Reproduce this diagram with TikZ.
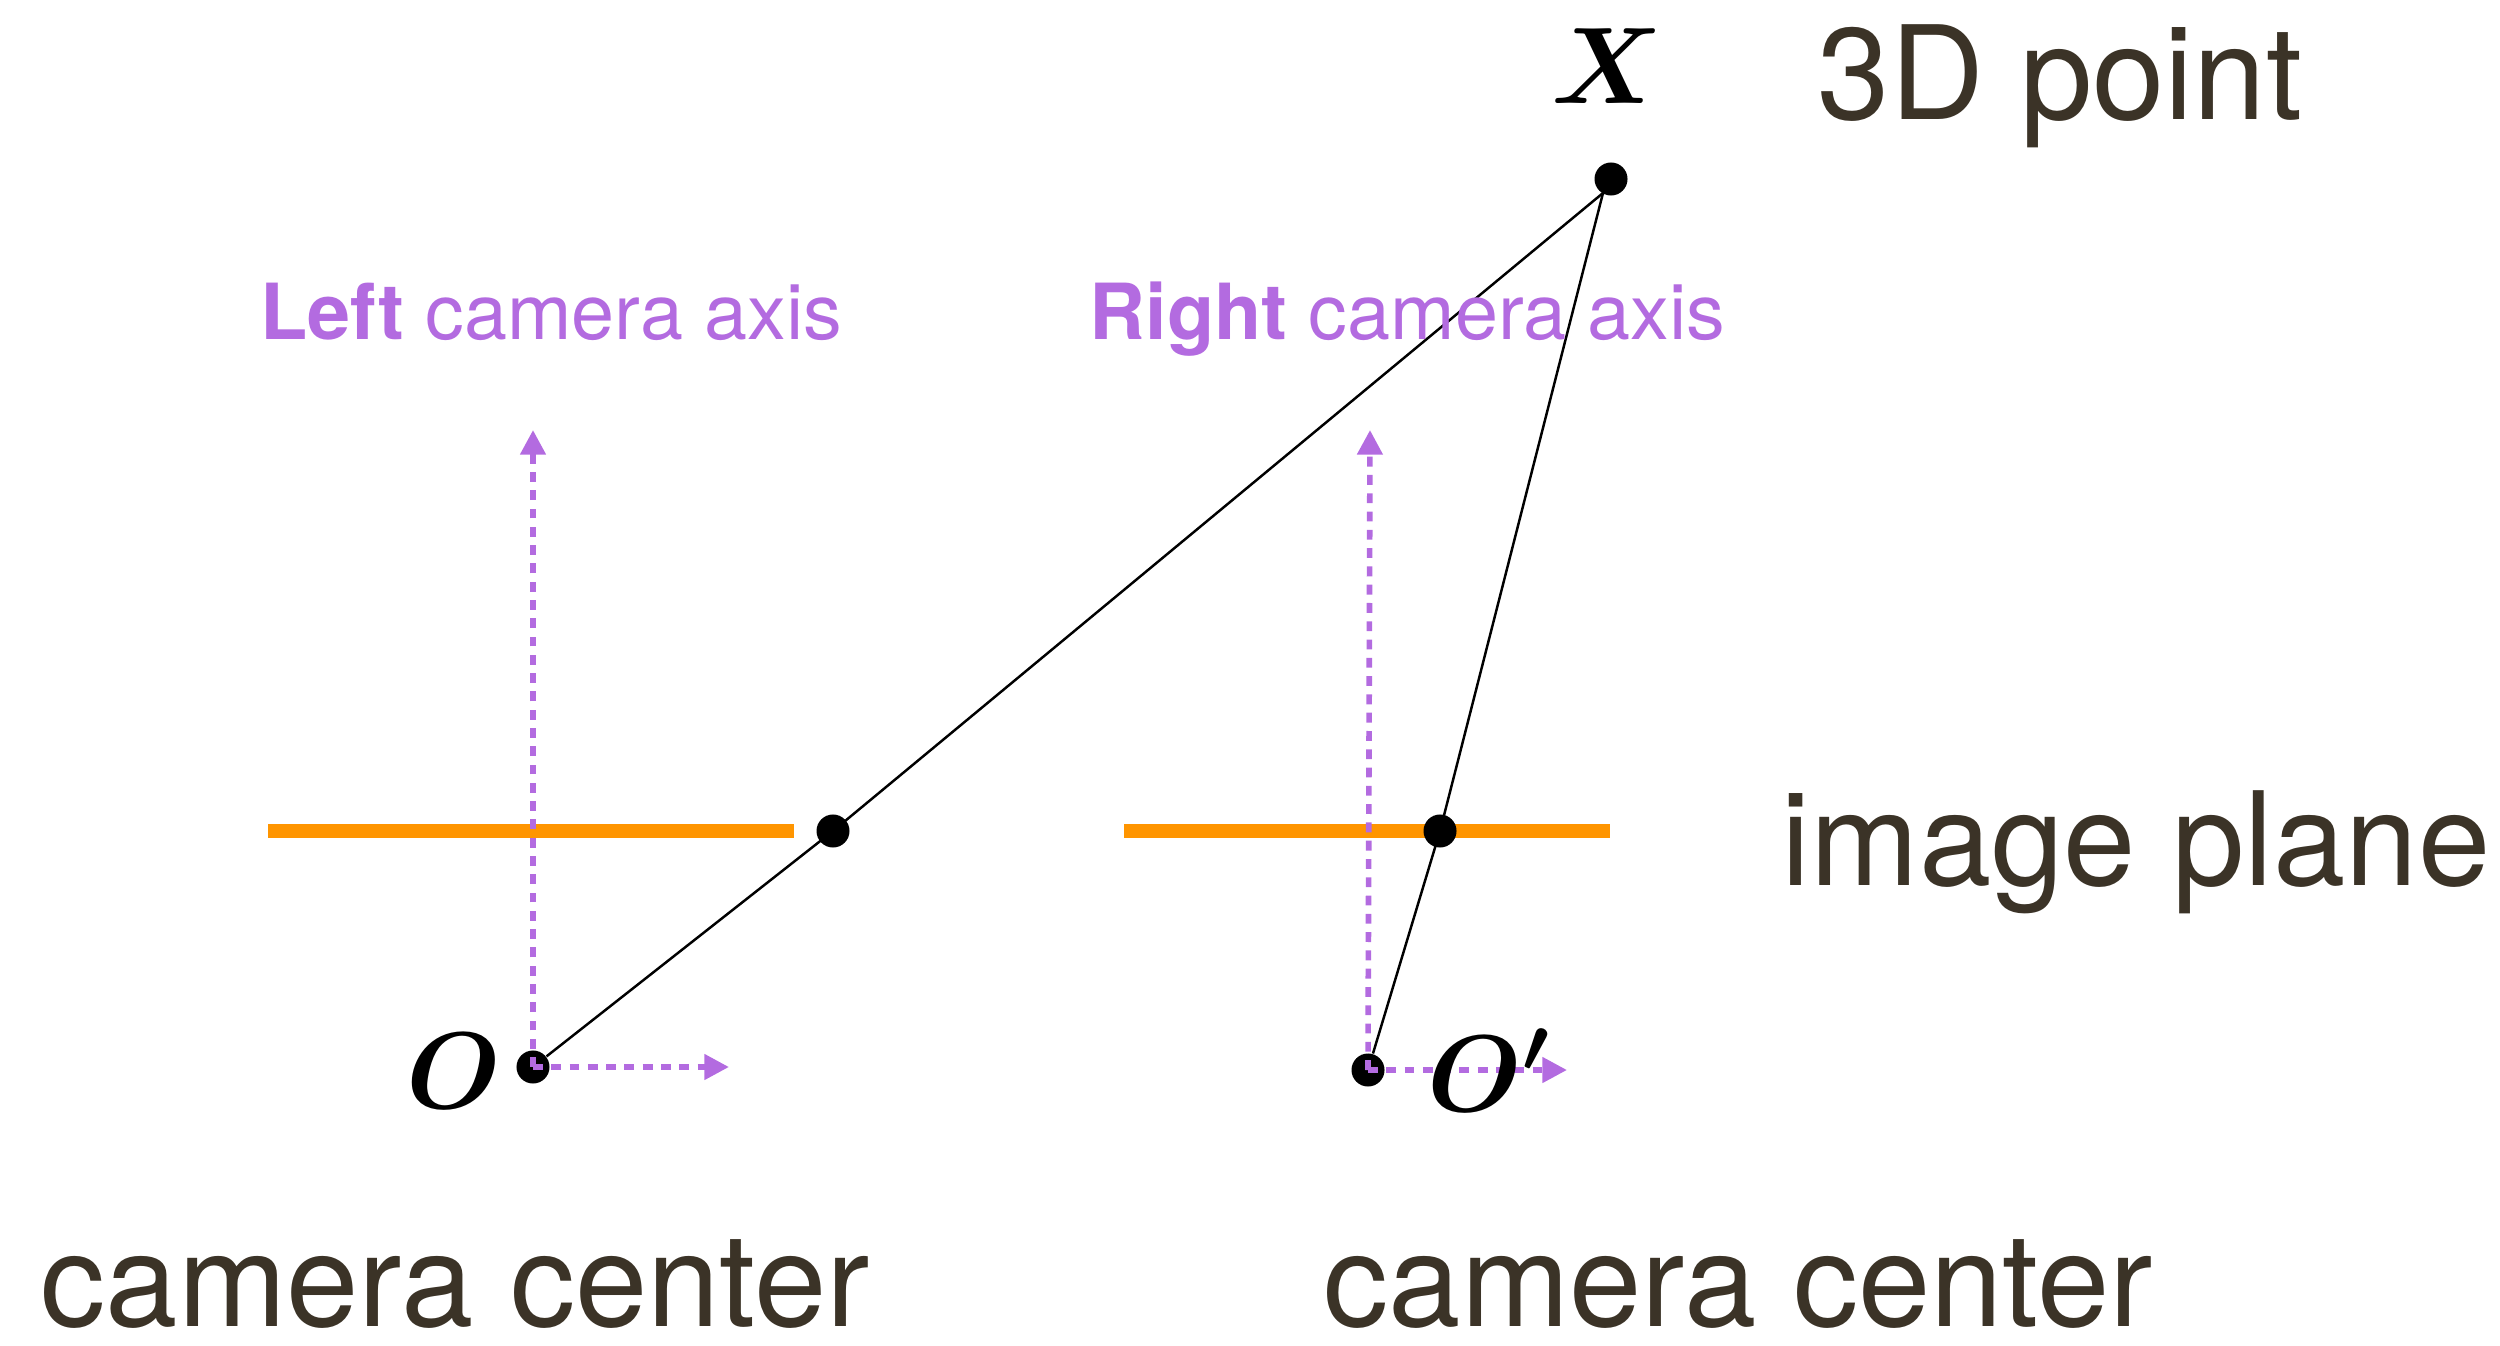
\RequirePackage{fix-cm}
\documentclass[tikz,border=0pt]{standalone}
\usepackage{fontspec}
\setmainfont{TeX Gyre Heros}
\usepackage{amsmath,amssymb,bm}
\usetikzlibrary{arrows.meta,calc}
\definecolor{axiscol}{HTML}{B36BE0}
\definecolor{planecol}{HTML}{FF9500}
\definecolor{textcol}{HTML}{3B3327}

\begin{document}
\begin{tikzpicture}[x=0.01cm, y=-0.01cm,
          every node/.style={inner sep=0pt},
          lbl/.style={font=\fontsize{37}{40}\selectfont, text=textcol, anchor=base west},
          axlbl/.style={font=\fontsize{22}{26}\selectfont, text=axiscol, anchor=base west},
          mathlbl/.style={font=\fontsize{31}{36}\selectfont},
          dot/.style={circle, fill=black, minimum size=0.33cm},
          plane/.style={planecol, line width=3.7pt},
          ray/.style={black, line width=0.7pt},
          axis/.style={axiscol, line width=1.6pt, dash pattern=on 2.8pt off 2.4pt,
                       -{Triangle[length=7pt, width=7pt]}}
      ]
        \useasboundingbox (0,0) rectangle (2500,1346);

        % image planes
        \coordinate (plLa) at (268,831);
        \coordinate (plLb) at (794,831);
        \coordinate (plRa) at (1124,831);
        \coordinate (plRb) at (1610,831);
        \draw[plane] (plLa) -- (plLb);
        \draw[plane] (plRa) -- (plRb);

        % camera centres, projections and the 3D point
        \node[dot] (O)  at (533,1067) {};
        \node[dot] (Op) at (1368,1070) {};
        \node[dot] (X)  at (1611,179) {};
        \node[dot] (pL) at (833,831) {};
        \node[dot] (pR) at (1440,831) {};
        \coordinate (Xtip) at (1603,193);

        \draw[ray] (O)  -- (pL.center) -- (Xtip);
        \draw[ray] (Op) -- (pR.center) -- (Xtip);

        % camera axes
        \coordinate (OupEnd)  at (533,430);
        \coordinate (OrtEnd)  at (729,1067);
        \coordinate (OpupEnd) at (1370,430);
        \coordinate (OprtEnd) at (1567,1070);
        \draw[axis] (O.center)  -- (OupEnd);
        \draw[axis] (O.center)  -- (OrtEnd);
        \draw[axis] (Op.center) -- (OpupEnd);
        \draw[axis] (Op.center) -- (OprtEnd);

        % labels
        \node[mathlbl, anchor=base] (Xlbl) at (1607,104) {$\bm{X}$};
        \node[mathlbl, anchor=base] (Olbl) at (454,1108) {$\bm{O}$};
        \node[mathlbl, anchor=base west] (Oplbl) at (1427,1111) {$\bm{O'}$};

        \node[lbl] (ptlbl)    at (1817,120)  {3D point};
        \node[lbl] (planelbl) at (1781,885)  {image plane};
        \node[lbl] (ccL)      at (40,1326)   {camera center};
        \node[lbl] (ccR)      at (1323,1326) {camera center};

        \node[axlbl] (axL) at (260,340)  {\textbf{Left} camera axis};
        \node[axlbl] (axR) at (1089,340) {\textbf{Right} camera axis};
      \end{tikzpicture}
\end{document}
